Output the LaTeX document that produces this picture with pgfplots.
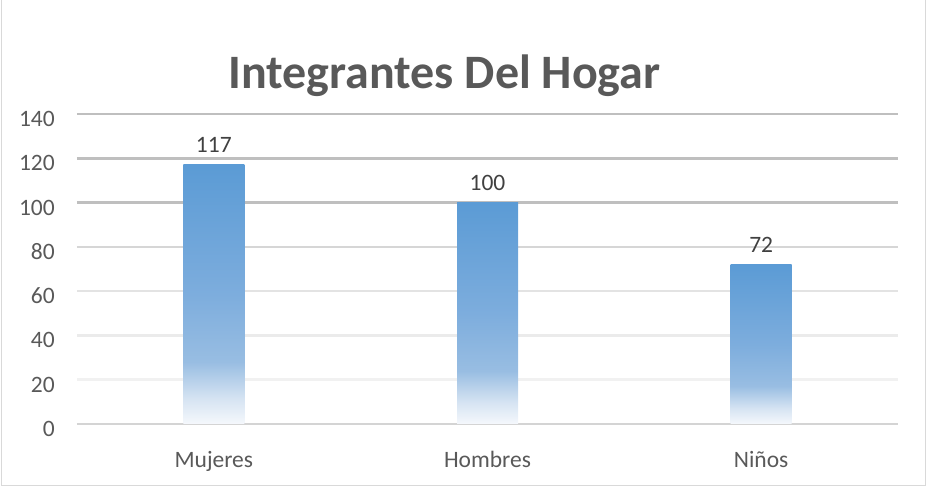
\documentclass[border=0pt]{standalone}
\usepackage{fontspec}
\setmainfont{Carlito}
\usepackage{pgfplots}
\pgfplotsset{compat=1.18}
\definecolor{txt}{HTML}{595959}
\definecolor{lbl}{HTML}{404040}
\definecolor{frame}{HTML}{D9D9D9}
\definecolor{g140}{HTML}{BFBFBF}
\definecolor{g80}{HTML}{D6D6D6}
\definecolor{g60}{HTML}{E3E3E3}
\definecolor{g40}{HTML}{EBEBEB}
\definecolor{g20}{HTML}{F1F1F1}
\definecolor{g0}{HTML}{D4D4D4}
\definecolor{b0}{HTML}{F5F8FC}
\definecolor{b1}{HTML}{D5E3F2}
\definecolor{b2}{HTML}{98BDE2}
\definecolor{b3}{HTML}{7DADDD}
\definecolor{b4}{HTML}{5B9BD5}
\pgfdeclareverticalshading{barshade}{100bp}{color(0bp)=(b0); color(25bp)=(b0); color(30bp)=(b1); color(37bp)=(b2); color(50bp)=(b3); color(75bp)=(b4); color(100bp)=(b4)}
\pgfplotstableread{
x y
0 117
}\mujeres
\pgfplotstableread{
x y
1 100
}\hombres
\pgfplotstableread{
x y
2 72
}\ninos
\begin{document}
\begin{tikzpicture}[x=1pt,y=1pt]
\useasboundingbox (0,0) rectangle (927,487);
\draw[frame, line width=1.5pt] (1.5,495) -- (1.5,1.5) -- (925.5,1.5) -- (925.5,495);
\node[anchor=base, font=\bfseries\fontsize{48}{56}\selectfont, text=txt, inner sep=0pt] at (444.5,398) {Integrantes Del Hogar};
\begin{axis}[
  at={(77pt,63pt)}, anchor=south west,
  scale only axis, width=821pt, height=310pt,
  xmin=-0.5, xmax=2.5, ymin=0, ymax=140,
  ytick={0,20,...,140},
  xtick={0,1,2}, xticklabels={Mujeres,Hombres,Niños},
  axis line style={draw=none}, tick style={draw=none},
  /pgf/number format/assume math mode=true,
  ticklabel style={font=\fontsize{23.5}{28}\selectfont, text=txt, inner sep=0pt},
  yticklabel style={anchor=east, xshift=-22pt, yshift=-5pt},
  xticklabel style={anchor=base, yshift=-44pt},
  clip=false,
  barstyle/.style={ybar, bar width=61pt, bar shift=0pt, draw=none, shade, shading=barshade,
    nodes near coords,
    nodes near coords style={font=\fontsize{23.5}{28}\selectfont, text=lbl, anchor=south, inner sep=0pt, yshift=12pt, /pgf/number format/assume math mode=true}},
]
\addplot[g140, line width=2.5pt, forget plot] coordinates {(-0.5,140) (2.5,140)};
\addplot[g140, line width=2.5pt, forget plot] coordinates {(-0.5,120) (2.5,120)};
\addplot[g140, line width=2.5pt, forget plot] coordinates {(-0.5,100) (2.5,100)};
\addplot[g80, line width=2.5pt, forget plot] coordinates {(-0.5,80) (2.5,80)};
\addplot[g60, line width=2.5pt, forget plot] coordinates {(-0.5,60) (2.5,60)};
\addplot[g40, line width=2.5pt, forget plot] coordinates {(-0.5,40) (2.5,40)};
\addplot[g20, line width=2.5pt, forget plot] coordinates {(-0.5,20) (2.5,20)};
\addplot[g0, line width=2pt, forget plot] coordinates {(-0.5,0) (2.5,0)};
\addplot[barstyle] table[x=x,y=y] {\mujeres};
\addplot[barstyle] table[x=x,y=y] {\hombres};
\addplot[barstyle] table[x=x,y=y] {\ninos};
\end{axis}
\end{tikzpicture}
\end{document}
